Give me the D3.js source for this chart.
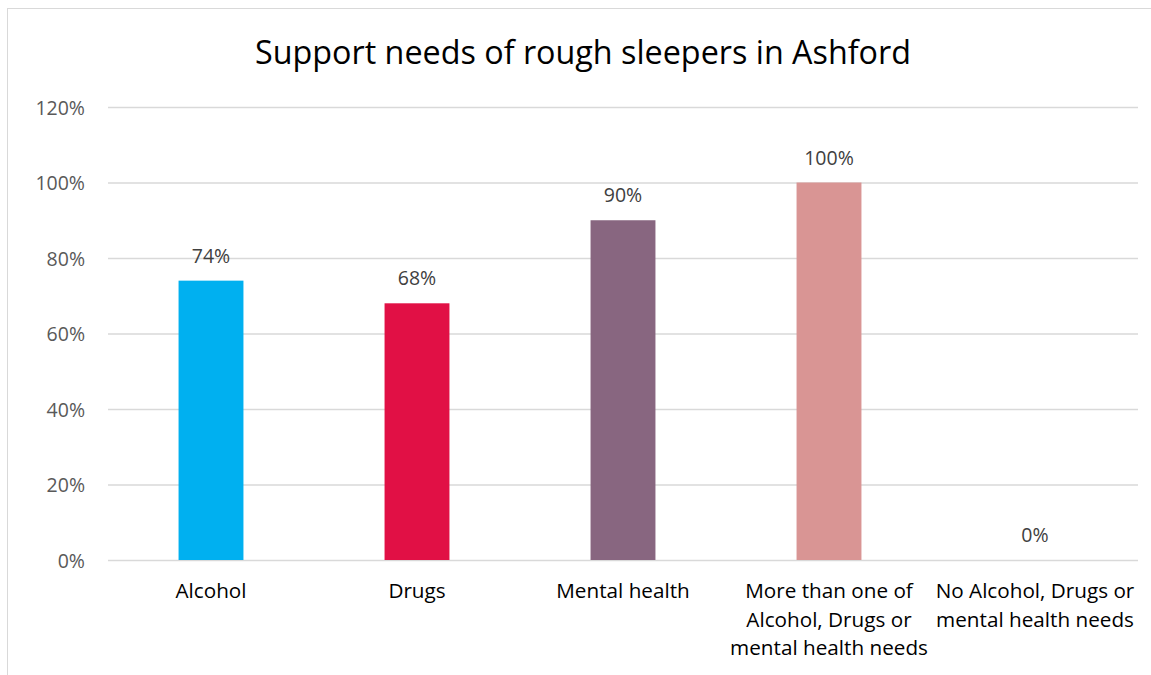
<!DOCTYPE html>
<html>
<head>
<meta charset="utf-8">
<script src="https://cdn.jsdelivr.net/npm/d3@7"></script>
<style>
  html, body { margin: 0; padding: 0; background: #fff; }
  svg { display: block; font-family: "Open Sans", Lato, sans-serif; }
</style>
</head>
<body>
<svg id="chart" width="1151" height="675"></svg>
<script>
// Support needs of rough sleepers in Ashford
const categories = [
  ["Alcohol"],
  ["Drugs"],
  ["Mental health"],
  ["More than one of", "Alcohol, Drugs or", "mental health needs"],
  ["No Alcohol, Drugs or", "mental health needs"]
];
const values = [0.74, 0.68, 0.90, 1.00, 0.00];
const colors = ["#00b0f0", "#e11045", "#886680", "#d99594", "#a5a5a5"];
const yTicks = [0, 0.2, 0.4, 0.6, 0.8, 1.0, 1.2];
const title = "Support needs of rough sleepers in Ashford";

const svg = d3.select("#chart");
const W = 1151, H = 675;
const margin = { top: 107, right: 13, bottom: 115, left: 108 };

// outer chart frame
svg.append("rect")
  .attr("x", 7.5).attr("y", 8.5)
  .attr("width", W + 20).attr("height", H + 20)
  .attr("fill", "#fff").attr("stroke", "#d9d9d9").attr("stroke-width", 1);

const x = d3.scaleBand()
  .domain(d3.range(categories.length))
  .range([margin.left, W - margin.right])
  .paddingInner(0.685).paddingOuter(0.3425);

const y = d3.scaleLinear()
  .domain([0, 1.2])
  .range([H - margin.bottom, margin.top]);

// horizontal gridlines with percent labels
const yAxis = d3.axisLeft(y)
  .tickValues(yTicks)
  .tickFormat(d3.format(".0%"))
  .tickSize(-(W - margin.right - margin.left))
  .tickPadding(23);

const gy = svg.append("g")
  .attr("transform", `translate(${margin.left},0)`)
  .call(yAxis);
gy.select(".domain").remove();
gy.selectAll(".tick line").attr("stroke", "#d9d9d9").attr("stroke-width", 1.3);
gy.selectAll(".tick text")
  .attr("fill", "#595959")
  .attr("font-size", 19.5)
  .attr("font-family", "'Open Sans', sans-serif")
  .attr("dy", "0.36em");

// bars
svg.append("g").selectAll("rect")
  .data(values)
  .join("rect")
  .attr("x", (d, i) => x(i))
  .attr("width", x.bandwidth())
  .attr("y", d => y(d))
  .attr("height", d => y(0) - y(d))
  .attr("fill", (d, i) => colors[i]);

// value labels above bars
svg.append("g").selectAll("text")
  .data(values)
  .join("text")
  .attr("x", (d, i) => x(i) + x.bandwidth() / 2)
  .attr("y", d => y(d) - 18)
  .attr("text-anchor", "middle")
  .attr("fill", "#404040")
  .attr("font-size", 19.5)
  .text(d => d3.format(".0%")(d));

// category labels, wrapped onto several lines
const cat = svg.append("g").selectAll("text")
  .data(categories)
  .join("text")
  .attr("x", (d, i) => x(i) + x.bandwidth() / 2)
  .attr("y", y(0) + 38)
  .attr("text-anchor", "middle")
  .attr("fill", "#000")
  .attr("font-size", 20.7);
cat.selectAll("tspan")
  .data(d => d)
  .join("tspan")
  .attr("x", function () { return d3.select(this.parentNode).attr("x"); })
  .attr("dy", (d, j) => j === 0 ? 0 : 28.5)
  .text(d => d);

// title
svg.append("text")
  .attr("x", 583)
  .attr("y", 64)
  .attr("text-anchor", "middle")
  .attr("fill", "#000")
  .attr("font-size", 32.3)
  .text(title);
</script>
</body>
</html>
